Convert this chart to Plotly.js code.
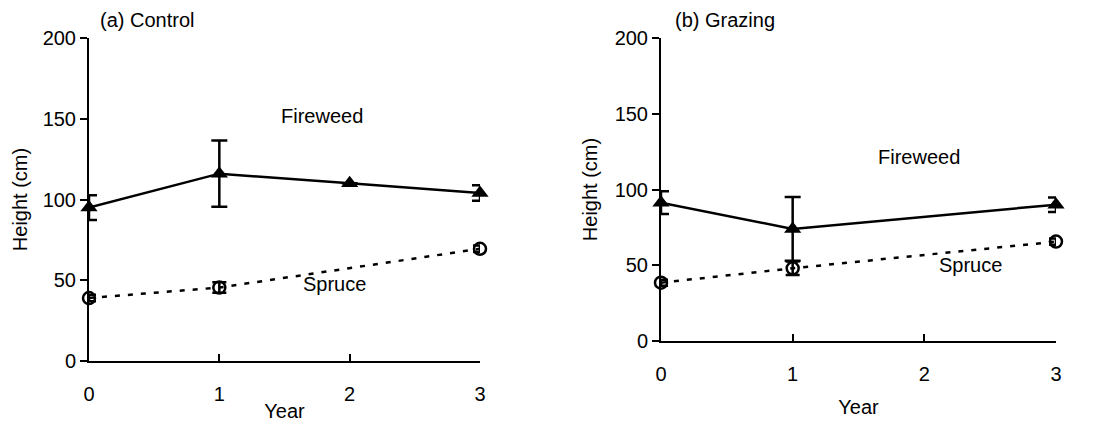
<!DOCTYPE html>
<html>
<head>
<meta charset="utf-8">
<script src="https://cdn.plot.ly/plotly-3.0.1.min.js"></script>
<style>html,body{margin:0;padding:0;background:#fff;}#chart{width:1094px;height:424px;}</style>
</head>
<body>
<div id="chart"></div>
<script>
// Data
const years = [0, 1, 2, 3];
const yearsGrazing = [0, 1, 3];
const controlFireweed = [95, 116, 110, 104];
const controlFireweedErr = [7.7, 20.5, 0, 4.8];
const controlSpruceYears = [0, 1, 3];
const controlSpruceVals = [39, 45.5, 69.5];
const controlSpruceErrs = [2, 3.2, 2];
const grazingFireweed = [91.3, 74, 90];
const grazingFireweedErr = [7.5, 21, 4.8];
const grazingSpruce = [38.5, 48, 65.6];
const grazingSpruceErr = [2, 4.5, 2];
const yTicks = [0, 50, 100, 150, 200];
const xTicks = [0, 1, 2, 3];
const panelTitles = ['(a) Control', '(b) Grazing'];
const seriesNames = ['Fireweed', 'Spruce'];

const FONT = 'Liberation Sans, Arial, sans-serif';
const FS = 20;
const W = 1094, H = 424;

function fireweed(x, y, err, xa, ya) {
  return {
    x: x, y: y, xaxis: xa, yaxis: ya, type: 'scatter', mode: 'lines+markers',
    cliponaxis: false,
    line: {color: '#000', width: 2.5},
    marker: {symbol: 'triangle-up', size: 15, color: '#000'},
    error_y: {type: 'data', array: err, visible: true, color: '#000', thickness: 2.5, width: 8},
    showlegend: false, hoverinfo: 'x+y'
  };
}
function spruce(x, y, err, xa, ya) {
  return {
    x: x, y: y, xaxis: xa, yaxis: ya, type: 'scatter', mode: 'lines+markers',
    cliponaxis: false,
    line: {color: '#000', width: 2.5, dash: '5px,8px'},
    marker: {symbol: 'circle-open', size: 12, color: '#000', line: {width: 2.5, color: '#000'}},
    error_y: {type: 'data', array: err, visible: true, color: '#000', thickness: 2.5, width: 7},
    showlegend: false, hoverinfo: 'x+y'
  };
}

const data = [
  fireweed(years, controlFireweed, controlFireweedErr, 'x', 'y'),
  spruce(controlSpruceYears, controlSpruceVals, controlSpruceErrs, 'x', 'y'),
  fireweed(yearsGrazing, grazingFireweed, grazingFireweedErr, 'x2', 'y2'),
  spruce(yearsGrazing, grazingSpruce, grazingSpruceErr, 'x2', 'y2')
];

function xAxis(domain, anchor, standoff) {
  return {
    domain: domain, anchor: anchor, range: [0, 3], fixedrange: true,
    tickvals: xTicks, ticktext: xTicks.map(String),
    ticks: 'inside', ticklen: 7, tickwidth: 2, tickcolor: '#000',
    showline: true, linecolor: '#000', linewidth: 2, showgrid: false, zeroline: false,
    ticklabelstandoff: 14,
    tickfont: {family: FONT, size: FS, color: '#000'},
    title: {text: 'Year', font: {family: FONT, size: FS, color: '#000'}, standoff: standoff}
  };
}
function yAxis(domain, anchor, standoff) {
  return {
    domain: domain, anchor: anchor, range: [0, 200], fixedrange: true,
    tickvals: yTicks, ticktext: yTicks.map(String),
    ticks: 'outside', ticklen: 7, tickwidth: 2, tickcolor: '#000',
    showline: true, linecolor: '#000', linewidth: 2, showgrid: false, zeroline: false,
    tickfont: {family: FONT, size: FS, color: '#000'},
    title: {text: 'Height (cm)', font: {family: FONT, size: FS, color: '#000'}, standoff: standoff}
  };
}

const layout = {
  width: W, height: H,
  margin: {l: 0, r: 0, t: 0, b: 0},
  paper_bgcolor: '#fff', plot_bgcolor: 'rgba(0,0,0,0)',
  showlegend: false,
  font: {family: FONT, size: FS, color: '#000'},
  xaxis: xAxis([89 / W, 480 / W], 'y', 0),
  yaxis: yAxis([(H - 361) / H, (H - 38) / H], 'x', 10),
  xaxis2: xAxis([661 / W, 1056 / W], 'y2', 16),
  yaxis2: yAxis([(H - 341) / H, (H - 38) / H], 'x2', 12),
  annotations: [
    {xref: 'paper', yref: 'paper', x: 98 / W, y: (H - 20) / H, xanchor: 'left', yanchor: 'middle',
     text: panelTitles[0], showarrow: false, font: {family: FONT, size: FS, color: '#000'}},
    {xref: 'paper', yref: 'paper', x: 673 / W, y: (H - 20) / H, xanchor: 'left', yanchor: 'middle',
     text: panelTitles[1], showarrow: false, font: {family: FONT, size: FS, color: '#000'}},
    {xref: 'x', yref: 'y', x: 1.79, y: 152, text: seriesNames[0], showarrow: false,
     font: {family: FONT, size: FS, color: '#000'}},
    {xref: 'x', yref: 'y', x: 1.88, y: 47.7, text: seriesNames[1], showarrow: false,
     font: {family: FONT, size: FS, color: '#000'}},
    {xref: 'x2', yref: 'y2', x: 1.96, y: 121.6, text: seriesNames[0], showarrow: false,
     font: {family: FONT, size: FS, color: '#000'}},
    {xref: 'x2', yref: 'y2', x: 2.35, y: 50.2, text: seriesNames[1], showarrow: false,
     font: {family: FONT, size: FS, color: '#000'}}
  ]
};

Plotly.newPlot('chart', data, layout, {staticPlot: true, displayModeBar: false});
</script>
</body>
</html>
